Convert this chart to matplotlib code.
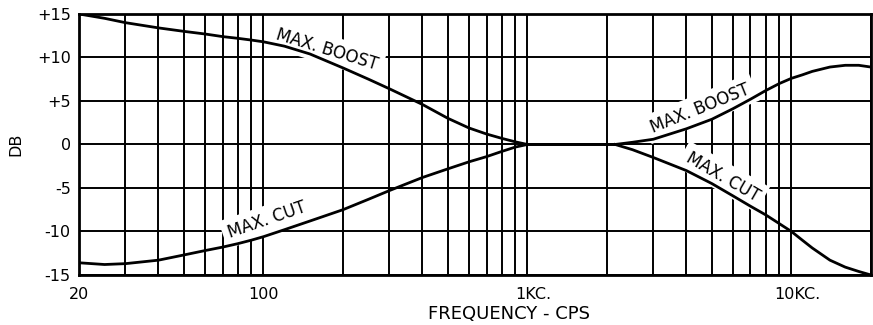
import matplotlib.pyplot as plt
from matplotlib.ticker import LogLocator, NullFormatter, FixedLocator, FixedFormatter
from matplotlib.transforms import ScaledTranslation

# bass control curves (cps, dB)
bass_freq = [20, 25, 30, 40, 50, 60, 70, 80, 90, 100, 120, 150, 200, 250, 300,
             400, 500, 600, 700, 800, 900, 1000, 2150]
bass_boost = [15.0, 14.5, 14.0, 13.4, 13.0, 12.7, 12.4, 12.2, 12.0, 11.8, 11.3,
              10.4, 8.8, 7.5, 6.4, 4.6, 3.0, 1.9, 1.2, 0.7, 0.3, 0.0, 0.0]
bass_cut = [-13.6, -13.8, -13.7, -13.3, -12.7, -12.2, -11.8, -11.4, -11.0, -10.6,
            -9.8, -8.8, -7.5, -6.3, -5.3, -3.8, -2.8, -2.0, -1.4, -0.8, -0.3, 0.0, 0.0]

# treble control curves
treble_freq = [2150, 2500, 3000, 4000, 5000, 6000, 7000, 8000, 9000, 10000,
               11000, 12000, 14000, 16000, 18000, 20000]
treble_boost = [0.0, 0.25, 0.6, 1.8, 2.9, 4.1, 5.2, 6.2, 7.0, 7.6, 8.0, 8.4,
                8.9, 9.1, 9.1, 8.9]
treble_cut = [0.0, -0.6, -1.5, -3.0, -4.5, -5.9, -7.1, -8.1, -9.1, -10.0, -11.0,
              -11.9, -13.3, -14.1, -14.6, -15.0]

freq_ticks = [20, 100, 1000, 10000]
freq_labels = ["20", "100", "1KC.", "10KC."]
db_ticks = [-15, -10, -5, 0, 5, 10, 15]
db_labels = ["-15", "-10", "-5", "0", "+5", "+10", "+15"]

fig = plt.figure(figsize=(8.73, 3.25), dpi=100)
ax = fig.add_axes([0.0905, 0.154, 0.907, 0.803])

ax.plot(bass_freq, bass_boost, color="black", lw=2.0, zorder=4)
ax.plot(bass_freq, bass_cut, color="black", lw=2.0, zorder=4)
ax.plot(treble_freq, treble_boost, color="black", lw=2.0, zorder=4)
ax.plot(treble_freq, treble_cut, color="black", lw=2.0, zorder=4)

ax.set_xscale("log")
ax.set_xlim(20, 20000)
ax.set_ylim(-15, 15)

ax.xaxis.set_major_locator(FixedLocator(freq_ticks))
ax.xaxis.set_major_formatter(FixedFormatter(freq_labels))
ax.xaxis.set_minor_locator(LogLocator(base=10, subs=range(2, 10), numticks=20))
ax.xaxis.set_minor_formatter(NullFormatter())
ax.set_yticks(db_ticks)
ax.set_yticklabels(db_labels)

ax.tick_params(which="both", length=0)
ax.tick_params(axis="x", pad=9, labelsize=11.5)
ax.tick_params(axis="y", pad=6, labelsize=11.5)

# the KC labels sit a little right of their lines
fig.canvas.draw()
for t in ax.get_xticklabels()[2:]:
    t.set_transform(t.get_transform() + ScaledTranslation(0.06, 0, fig.dpi_scale_trans))

ax.set_axisbelow(True)
ax.grid(which="both", color="black", lw=1.4)
for s in ax.spines.values():
    s.set_linewidth(2.0)

ax.set_ylabel("DB", fontsize=11.5, labelpad=10)
ax.text(0.543, -0.115, "FREQUENCY - CPS", transform=ax.transAxes,
        ha="center", va="top", fontsize=13)

box = dict(facecolor="white", edgecolor="none", pad=4)
lbl = dict(fontsize=12, ha="center", va="center", rotation_mode="anchor",
           zorder=3, bbox=box)
ax.text(174, 10.9, "MAX. BOOST", rotation=-17, **lbl)
ax.text(103, -8.7, "MAX. CUT", rotation=19, **lbl)
ax.text(4520, 4.1, "MAX. BOOST", rotation=22, **lbl)
ax.text(5490, -3.7, "MAX. CUT", rotation=-30, **lbl)

fig.savefig("out.png", dpi=100)
